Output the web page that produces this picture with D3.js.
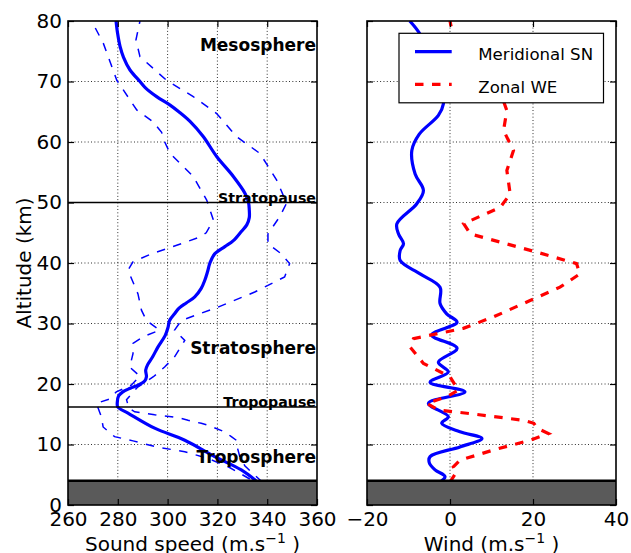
<!DOCTYPE html>
<html>
<head>
<meta charset="utf-8">
<script src="https://cdn.jsdelivr.net/npm/d3@7"></script>
<style>
  html, body { margin: 0; padding: 0; background: #fff; }
  svg { display: block; font-family: "DejaVu Sans", sans-serif; }
</style>
</head>
<body>
<svg id="chart" width="631" height="553"></svg>
<script>
// ---- data -------------------------------------------------------------
const altitudeTicks = [0, 10, 20, 30, 40, 50, 60, 70, 80];
const soundSpeedTicks = [260, 280, 300, 320, 340, 360];
const windTicks = [-20, 0, 20, 40];

// [altitude km, sound speed m/s]
const soundSpeedMean = [
  [4.0, 335.5], [5.8, 329.6], [8.0, 318.9], [10.7, 306.9], [12.7, 294.8],
  [15.2, 284.1], [16.2, 280.0], [17.0, 279.8], [18.0, 280.3], [18.7, 282.0],
  [19.3, 285.0], [19.9, 288.5], [20.5, 290.8], [21.2, 291.5], [22.3, 291.2],
  [23.2, 292.0], [24.5, 294.0], [26.1, 296.1], [28.0, 299.0], [29.4, 300.2],
  [30.5, 300.8], [31.6, 302.8], [32.5, 304.5], [33.4, 307.5], [34.4, 310.9],
  [35.8, 313.5], [37.1, 314.9], [38.5, 316.0], [40.0, 317.0], [41.5, 318.9],
  [42.7, 323.0], [43.7, 326.4], [45.2, 329.6], [46.3, 331.8], [47.5, 332.8],
  [48.8, 332.8], [50.0, 332.5], [51.5, 331.1], [54.3, 326.4], [57.6, 319.7],
  [60.9, 314.3], [63.4, 309.0], [65.0, 304.5], [66.1, 301.0], [67.5, 295.6],
  [69.0, 291.0], [70.0, 288.9], [71.9, 284.9], [74.0, 282.3], [75.8, 280.9],
  [78.0, 279.9], [80.0, 279.3]
];
const soundSpeedLow = [
  [4.3, 333.0], [6.2, 324.9], [7.7, 316.2], [8.8, 306.9], [9.6, 295.5],
  [10.6, 286.1], [11.3, 278.7], [12.9, 274.1], [14.6, 273.4], [16.8, 271.4],
  [17.5, 276.5], [18.7, 279.4], [19.8, 285.4], [21.3, 288.8], [22.8, 284.8],
  [25.0, 286.1], [26.7, 286.1], [27.8, 290.1], [28.9, 296.8], [30.5, 291.5],
  [32.2, 289.5], [34.9, 288.1], [38.8, 284.1], [40.2, 286.1], [41.5, 293.5],
  [43.2, 305.5], [44.3, 313.0], [45.0, 315.5], [47.1, 318.4], [50.4, 315.7],
  [54.3, 310.3], [58.1, 301.0], [60.5, 298.3], [61.6, 297.6], [63.4, 294.0],
  [65.3, 287.6], [70.2, 279.6], [76.3, 274.2], [80.0, 269.5]
];
const soundSpeedHigh = [
  [3.8, 338.0], [5.5, 333.5], [6.5, 331.0], [8.0, 329.0], [9.5, 328.0],
  [10.7, 327.6], [11.3, 325.6], [12.1, 322.9], [13.2, 316.2], [13.5, 313.5],
  [14.0, 308.2], [14.3, 305.5], [14.6, 301.5], [14.9, 294.8], [15.4, 286.8],
  [16.0, 284.5], [17.4, 283.5], [19.5, 288.0], [21.2, 294.3], [22.8, 298.8],
  [24.5, 302.8], [27.2, 306.9], [28.9, 302.8], [30.5, 305.5], [32.7, 320.2],
  [35.2, 335.0], [37.7, 347.0], [39.9, 349.0], [41.5, 345.7], [43.2, 340.3],
  [44.8, 340.3], [47.7, 345.1], [49.9, 347.8], [53.7, 343.8], [58.1, 337.1],
  [60.9, 327.7], [64.7, 319.7], [67.5, 310.3], [70.2, 299.6], [74.1, 288.9],
  [76.9, 287.3], [80.0, 288.9]
];

// [altitude km, wind m/s]
const windMeridional = [
  [3.6, -2.8], [4.7, -1.2], [5.8, -3.6], [7.0, -5.0], [8.0, -4.8],
  [9.6, 2.4], [11.0, 7.7], [12.1, 2.4], [13.5, -2.0], [14.6, -0.4],
  [16.8, -5.2], [18.7, 3.6], [20.3, -4.8], [22.0, -0.4], [23.6, -2.8],
  [25.9, 1.7], [28.1, -4.4], [30.2, 1.7], [31.6, -0.8], [33.3, -2.4],
  [36.0, -2.4], [38.2, -7.2], [40.4, -12.0], [42.1, -12.0], [43.2, -11.2],
  [44.8, -12.4], [46.5, -12.8], [49.8, -8.0], [52.0, -6.4], [54.7, -8.4],
  [58.6, -9.2], [61.3, -7.4], [64.4, -2.8], [66.3, -1.6], [69.5, -2.0],
  [73.5, -4.5], [77.8, -7.2], [80.0, -9.7]
];
const windZonal = [
  [3.8, 0.0], [5.5, 1.6], [6.3, 0.8], [7.4, 2.4], [9.1, 10.5],
  [10.7, 19.3], [11.8, 23.7], [12.7, 21.0], [13.5, 20.2], [14.0, 17.7],
  [15.1, 4.9], [15.7, -2.8], [16.8, -5.6], [17.9, -0.8], [19.0, 2.0],
  [21.2, 0.0], [23.4, -6.4], [26.1, -9.6], [27.5, -8.8], [29.2, 3.2],
  [31.1, 10.5], [33.8, 19.3], [36.0, 26.5], [38.2, 31.3], [39.9, 30.5],
  [41.8, 20.9], [44.8, 4.9], [46.5, 3.3], [49.2, 12.1], [51.4, 14.5],
  [55.3, 13.7], [58.6, 15.3], [61.9, 12.9], [65.2, 13.7], [68.5, 12.0],
  [72.0, 7.0], [75.5, 3.0], [78.3, 0.5], [80.0, 0.0]
];

const groundTop = 4;
const boundaries = [["Stratopause", 50], ["Tropopause", 16.2]];
const layers = [["Mesosphere", 75], ["Stratosphere", 25], ["Troposphere", 7]];
const legendNames = ["Meridional SN", "Zonal WE"];

// ---- layout -----------------------------------------------------------
const svg = d3.select("#chart");
const FONT = "DejaVu Sans";
const plotTop = 21, plotBottom = 505;

const y = d3.scaleLinear().domain([0, 80]).range([plotBottom, plotTop]);
const xSound = d3.scaleLinear().domain([260, 360]).range([68, 317]);
const xWind = d3.scaleLinear().domain([-20, 40]).range([367, 616]);

function panel(id, x, xTicks, showYLabels) {
  const [x0, x1] = x.range();
  const g = svg.append("g");

  svg.append("clipPath").attr("id", id)
    .append("rect").attr("x", x0).attr("y", plotTop)
    .attr("width", x1 - x0).attr("height", plotBottom - plotTop);

  // dotted grid
  const grid = g.append("g").attr("stroke", "#000").attr("stroke-width", 0.9)
    .attr("stroke-dasharray", "0.9,2.4");
  grid.selectAll("line.v").data(xTicks.slice(1, -1)).join("line")
    .attr("x1", d => x(d)).attr("x2", d => x(d))
    .attr("y1", plotTop).attr("y2", plotBottom);
  grid.selectAll("line.h").data(altitudeTicks.slice(1, -1)).join("line")
    .attr("x1", x0).attr("x2", x1)
    .attr("y1", d => y(d)).attr("y2", d => y(d));

  const plot = g.append("g").attr("clip-path", `url(#${id})`);
  return { g, plot, x0, x1 };
}

function finishPanel(p, x, xTicks, showYLabels) {
  const { g, plot, x0, x1 } = p;
  // ground band
  plot.append("rect")
    .attr("x", x0).attr("y", y(groundTop))
    .attr("width", x1 - x0).attr("height", y(0) - y(groundTop))
    .attr("fill", "#5a5a5a");
  plot.append("line")
    .attr("x1", x0).attr("x2", x1)
    .attr("y1", y(groundTop)).attr("y2", y(groundTop))
    .attr("stroke", "#000").attr("stroke-width", 2.5);

  // axes with inward ticks on all four sides
  const tick = 6;
  const bottom = g.append("g").attr("transform", `translate(0,${plotBottom})`)
    .call(d3.axisBottom(x).tickValues(xTicks).tickSize(-tick).tickFormat(d3.format("d")));
  bottom.selectAll("text").attr("y", 21).attr("dy", null);
  g.append("g").attr("transform", `translate(0,${plotTop})`)
    .call(d3.axisTop(x).tickValues(xTicks).tickSize(-tick).tickFormat(""));
  const left = g.append("g").attr("transform", `translate(${x0},0)`)
    .call(d3.axisLeft(y).tickValues(altitudeTicks).tickSize(-tick).tickPadding(6)
      .tickFormat(showYLabels ? d3.format("d") : ""));
  g.append("g").attr("transform", `translate(${x1},0)`)
    .call(d3.axisRight(y).tickValues(altitudeTicks).tickSize(-tick).tickFormat(""));

  g.selectAll(".domain").remove();
  g.selectAll(".tick line").attr("stroke", "#000").attr("stroke-width", 1.2);
  g.selectAll(".tick text").attr("font-size", 20).attr("font-family", FONT).attr("fill", "#000");

  g.append("rect").attr("x", x0).attr("y", plotTop)
    .attr("width", x1 - x0).attr("height", plotBottom - plotTop)
    .attr("fill", "none").attr("stroke", "#000").attr("stroke-width", 1.6);
}

function profileLine(x, curve) {
  return d3.line().x(d => x(d[1])).y(d => y(d[0])).curve(curve);
}

// ---- sound speed panel -----------------------------------------------
const left = panel("clipSound", xSound, soundSpeedTicks, true);
[soundSpeedLow, soundSpeedHigh].forEach(series => {
  left.plot.append("path").datum(series)
    .attr("d", profileLine(xSound, d3.curveLinear))
    .attr("fill", "none").attr("stroke", "#0000ff").attr("stroke-width", 1.5)
    .attr("stroke-dasharray", "8.5,8.5");
});
left.plot.append("path").datum(soundSpeedMean)
  .attr("d", profileLine(xSound, d3.curveCatmullRom))
  .attr("fill", "none").attr("stroke", "#0000ff").attr("stroke-width", 3.2)
  .attr("stroke-linejoin", "round");

boundaries.forEach(([name, alt]) => {
  left.plot.append("line")
    .attr("x1", left.x0).attr("x2", left.x1)
    .attr("y1", y(alt)).attr("y2", y(alt))
    .attr("stroke", "#000").attr("stroke-width", 1.6);
  left.g.append("text").text(name)
    .attr("x", left.x1 - 1).attr("y", y(alt))
    .attr("text-anchor", "end").attr("font-family", FONT)
    .attr("font-weight", "bold").attr("font-size", 14.2).attr("fill", "#000");
});
layers.forEach(([name, alt]) => {
  left.g.append("text").text(name)
    .attr("x", left.x1 - 1).attr("y", y(alt))
    .attr("text-anchor", "end").attr("font-family", FONT)
    .attr("font-weight", "bold").attr("font-size", 17).attr("fill", "#000");
});
finishPanel(left, xSound, soundSpeedTicks, true);

// ---- wind panel -------------------------------------------------------
const right = panel("clipWind", xWind, windTicks, false);
right.plot.append("path").datum(windMeridional)
  .attr("d", profileLine(xWind, d3.curveCatmullRom))
  .attr("fill", "none").attr("stroke", "#0000ff").attr("stroke-width", 3.2)
  .attr("stroke-linejoin", "round");
right.plot.append("path").datum(windZonal)
  .attr("d", profileLine(xWind, d3.curveLinear))
  .attr("fill", "none").attr("stroke", "#ff0000").attr("stroke-width", 3.2)
  .attr("stroke-dasharray", "8.5,8.5");
finishPanel(right, xWind, windTicks, false);

// legend
const legend = svg.append("g").attr("transform", "translate(399,33.3)");
legend.append("rect").attr("width", 204.5).attr("height", 69.5)
  .attr("fill", "#fff").attr("stroke", "#000").attr("stroke-width", 1.2);
const legendStyles = [
  { color: "#0000ff", dash: null },
  { color: "#ff0000", dash: "8.5,8.5" }
];
legendNames.forEach((name, i) => {
  const cy = 18.4 + i * 32.6;
  legend.append("line")
    .attr("x1", 16).attr("x2", 52.7).attr("y1", cy).attr("y2", cy)
    .attr("stroke", legendStyles[i].color).attr("stroke-width", 3.2)
    .attr("stroke-dasharray", legendStyles[i].dash);
  legend.append("text").text(name)
    .attr("x", 79.3).attr("y", cy + 8.6)
    .attr("font-family", FONT).attr("font-size", 16.6).attr("fill", "#000");
});

// ---- axis titles ------------------------------------------------------
function unitLabel(cx, prefix) {
  const t = svg.append("text").attr("x", cx).attr("y", 551)
    .attr("text-anchor", "middle").attr("font-family", FONT)
    .attr("font-size", 20).attr("fill", "#000");
  t.append("tspan").text(prefix + " (m.s");
  t.append("tspan").text("\u22121").attr("font-size", 14).attr("dy", -8);
  t.append("tspan").text(" )").attr("dy", 8);
}
unitLabel((xSound.range()[0] + xSound.range()[1]) / 2, "Sound speed");
unitLabel((xWind.range()[0] + xWind.range()[1]) / 2, "Wind");

svg.append("text").text("Altitude (km)")
  .attr("transform", `translate(31,${(plotTop + plotBottom) / 2}) rotate(-90)`)
  .attr("text-anchor", "middle").attr("font-family", FONT)
  .attr("font-size", 20).attr("fill", "#000");
</script>
</body>
</html>
